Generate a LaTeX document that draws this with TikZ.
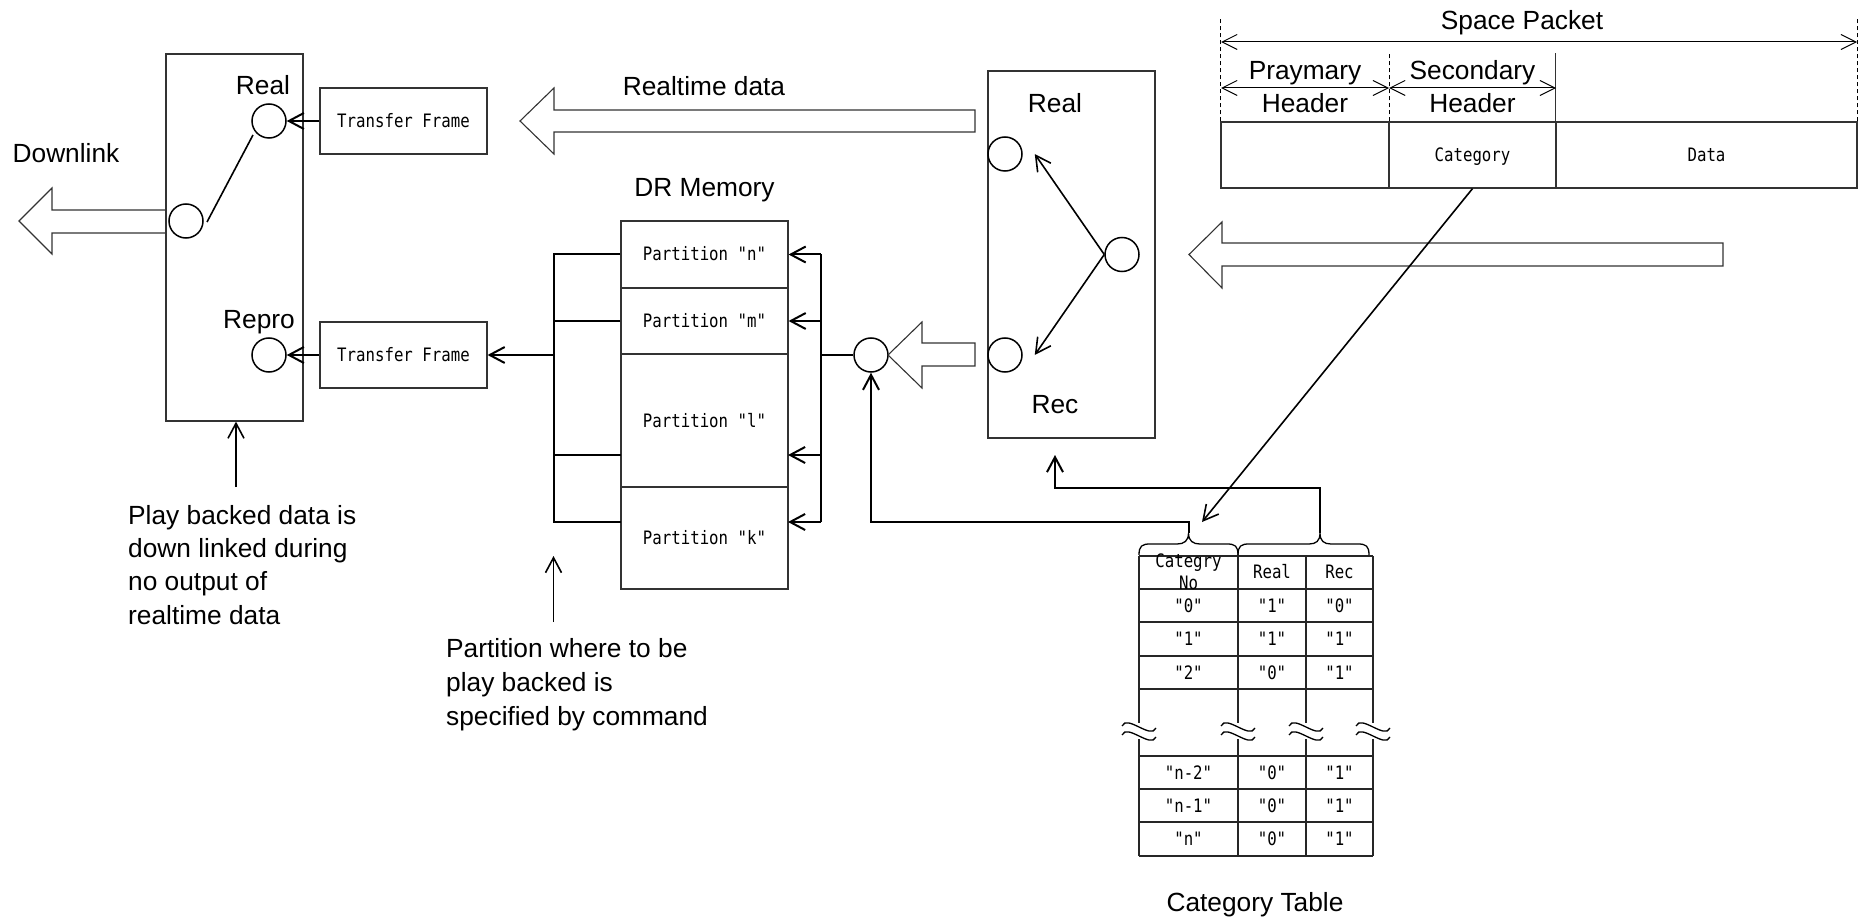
\documentclass[tikz,border=0pt]{standalone}
\usepackage{fontspec}
\setmainfont{Liberation Sans}
\newfontfamily\monofont[FakeStretch=0.85]{DejaVu Sans Mono}
\usetikzlibrary{arrows.meta,calc}
\tikzset{
  box/.style={draw=black!80, line width=1.2pt, inner sep=0pt},
  port/.style={circle, draw=black, line width=1.5pt, minimum size=34pt, inner sep=0pt},
  conn/.style={line width=2pt},
  arr/.style={line width=2pt, -{Straight Barb[length=15pt,width=16pt]}},
  sarr/.style={line width=1.6pt, -{Straight Barb[length=15pt,width=16pt]}},
  dim/.style={line width=1pt, {Straight Barb[length=15pt,width=15pt]}-{Straight Barb[length=15pt,width=15pt]}},
  dashline/.style={line width=1.2pt, dash pattern=on 4pt off 3pt},
  fat/.style={draw=black!80, line width=1.1pt},
  lbl/.style={font=\fontsize{26.3}{33.3}\selectfont, inner sep=0pt},
  mono/.style={font=\monofont\fontsize{18.5}{22}\selectfont, inner sep=0pt, text height=13pt, text depth=0pt},
  tline/.style={draw=black!85, line width=1.3pt},
  wave/.style={line width=1.3pt},
  brace/.style={line width=1.3pt},
}
\begin{document}
\begin{tikzpicture}[x=1pt,y=-1pt]
\useasboundingbox (0,0) rectangle (1864,920);
\fill[white] (0,0) rectangle (1864,920);

% ---------- left switch ----------
\node[box, minimum width=137pt, minimum height=367pt] (lb) at (234.5,237.5) {};
\node[port] (lreal) at (269,121) {};
\node[port] (lmid) at (186,221) {};
\node[port] (lrepro) at (269,355) {};
\draw[line width=1.6pt] ($(lmid)+(21,1)$) -- ($(lreal)+(-16,14)$);
\node[lbl, anchor=base] (lrealt) at (263,95) {Real};
\node[lbl, anchor=base] (lreprot) at (259,328) {Repro};
\node[lbl, anchor=base] (downt) at (66,163) {Downlink};
\draw[fat] (166,210) -- (52,210) -- (52,188) -- (19,221) -- (52,254) -- (52,233) -- (166,233);

\node[box, mono, minimum width=167pt, minimum height=66pt] (tf1) at (403.5,121) {Transfer Frame};
\node[box, mono, minimum width=167pt, minimum height=66pt] (tf2) at (403.5,355) {Transfer Frame};
\draw[arr] (tf1.west) -- (lreal.east);
\draw[arr] (tf2.west) -- (lrepro.east);

\coordinate (pb) at (236,487);
\draw[sarr] (pb) -- (pb |- lb.south);
\node[lbl, anchor=north west, align=left] (pbt) at (128,505)
  {Play backed data is\\down linked during\\no output of\\realtime data};

% ---------- realtime arrow ----------
\draw[fat] (975,110) -- (554,110) -- (554,88) -- (520,121) -- (554,154) -- (554,132) -- (975,132) -- cycle;
\node[lbl, anchor=base] (rtdt) at (704,96) {Realtime data};

% ---------- DR memory ----------
\node[lbl, anchor=base] (drt) at (704.5,197) {DR Memory};
\node[box, mono, minimum width=167pt, minimum height=67pt] (pn) at (704.5,254.5) {Partition "n"};
\node[box, mono, minimum width=167pt, minimum height=66pt] (pm) at (704.5,321) {Partition "m"};
\node[box, mono, minimum width=167pt, minimum height=133pt] (pl) at (704.5,420.5) {Partition "l"};
\node[box, mono, minimum width=167pt, minimum height=102pt] (pk) at (704.5,538) {Partition "k"};

\draw[conn] (pn.west) -- (553.5,254.5) -- (553.5,522) -- (621,522);
\draw[conn] (pm.west) -- (553.5,321);
\draw[conn] (553.5,455) -- (621,455);
\draw[arr] (553.5,355) -- (tf2.east);

\node[port] (mc) at (871,355) {};
\draw[conn] (mc.west) -- (821,355);
\draw[conn] (821,254.5) -- (821,522);
\draw[arr] (821,254.5) -- (pn.east);
\draw[arr] (821,321) -- (pm.east);
\draw[arr] (821,455) -- (788,455);
\draw[arr] (821,522) -- (788,522);
\draw[fat] (975,343) -- (922,343) -- (922,322) -- (888,355) -- (922,388) -- (922,366) -- (975,366) -- cycle;

\coordinate (pbc) at (553.5,622);
\draw[sarr] (pbc) -- (553.5,556);
\node[lbl, anchor=north west, align=left, font=\fontsize{26.3}{34}\selectfont] (pct) at (446,638)
  {Partition where to be\\play backed is\\specified by command};

% ---------- right switch ----------
\node[box, minimum width=167pt, minimum height=367pt] (rb) at (1071.5,254.5) {};
\node[port] (rreal) at (1005,154) {};
\node[port] (rmid) at (1122,254.5) {};
\node[port] (rrec) at (1005,355) {};
\draw[sarr] (rmid.west) -- ($(rreal.east)+(12,0)$);
\draw[sarr] (rmid.west) -- ($(rrec.east)+(12,0)$);
\node[lbl, anchor=base] (rrealt) at (1055,113) {Real};
\node[lbl, anchor=base] (rrect) at (1055,413) {Rec};

\draw[fat] (1723,243) -- (1222,243) -- (1222,222) -- (1189,254.5) -- (1222,288) -- (1222,266) -- (1723,266) -- cycle;

% ---------- space packet ----------
\node[box, minimum width=168pt, minimum height=66pt] (sp1) at (1305,155) {};
\node[box, mono, minimum width=167pt, minimum height=66pt] (sp2) at (1472.5,155) {Category};
\node[box, mono, minimum width=301pt, minimum height=66pt] (sp3) at (1706.5,155) {Data};
\draw[dashline] (sp1.north west) -- ++(0,-102);
\draw[dashline] (sp3.north east) -- ++(0,-102);
\draw[dashline] (sp1.north east) -- ++(0,-68);
\draw[box] (sp3.north west) -- ++(0,-68);
\coordinate (spl) at (1221,42);
\coordinate (spr) at (1857,42);
\draw[dim] (spl) -- (spr);
\coordinate (h1) at (1221,88);
\coordinate (h2) at (1389,88);
\coordinate (h3) at (1556,88);
\draw[dim] (h1) -- (h2);
\draw[dim] (h2) -- (h3);
\node[lbl, anchor=base] (spt) at (1522,30) {Space Packet};
\node[lbl, anchor=base] (ph1) at (1305,80) {Praymary};
\node[lbl, anchor=base] (ph2) at (1305,113) {Header};
\node[lbl, anchor=base] (sh1) at (1472.5,80) {Secondary};
\node[lbl, anchor=base] (sh2) at (1472.5,113) {Header};

% ---------- category table ----------
\foreach \yy in {556,589,622,656,689,756,789,822,856}
  \draw[tline] (1139,\yy) -- (1373,\yy);
\foreach \X in {1139,1238,1306,1373} {
  \draw[tline] (\X,556) -- (\X,723);
  \draw[tline] (\X,739) -- (\X,856);
  \draw[wave] ({\X-17},726) .. controls ({\X-12},714) and ({\X+12},740) .. ({\X+17},728);
  \draw[wave] ({\X-17},735) .. controls ({\X-12},723) and ({\X+12},749) .. ({\X+17},737);
}
\node[mono] (hcat) at (1188.5,561) {Categry};
\node[mono] (hno) at (1188.5,583) {No};
\node[mono] (hreal) at (1272,572) {Real};
\node[mono] (hrec) at (1339.5,572) {Rec};
\node[mono] (a1) at (1188.5,605.5) {"0"};
\node[mono] (a2) at (1272,605.5) {"1"};
\node[mono] (a3) at (1339.5,605.5) {"0"};
\node[mono] (b1t) at (1188.5,639) {"1"};
\node[mono] (b2t) at (1272,639) {"1"};
\node[mono] (b3t) at (1339.5,639) {"1"};
\node[mono] (c1) at (1188.5,672.5) {"2"};
\node[mono] (c2) at (1272,672.5) {"0"};
\node[mono] (c3) at (1339.5,672.5) {"1"};
\node[mono] (d1) at (1188.5,772.5) {"n-2"};
\node[mono] (d2) at (1272,772.5) {"0"};
\node[mono] (d3) at (1339.5,772.5) {"1"};
\node[mono] (e1) at (1188.5,805.5) {"n-1"};
\node[mono] (e2) at (1272,805.5) {"0"};
\node[mono] (e3) at (1339.5,805.5) {"1"};
\node[mono] (f1) at (1188.5,839) {"n"};
\node[mono] (f2) at (1272,839) {"0"};
\node[mono] (f3) at (1339.5,839) {"1"};
\node[lbl, anchor=base] (ctt) at (1255,911) {Category Table};

% braces
\coordinate (br1) at (1188.5,533);
\coordinate (br2) at (1320,533);
\draw[brace] (1139,555) .. controls (1139,546) and (1142,544) .. (1150,544) -- (1177,544)
  .. controls (1184,544) and (1188.5,541) .. (br1)
  .. controls (1188.5,541) and (1193,544) .. (1200,544) -- (1227,544)
  .. controls (1235,544) and (1238,546) .. (1238,555);
\draw[brace] (1238,555) .. controls (1238,546) and (1241,544) .. (1249,544) -- (1309,544)
  .. controls (1316,544) and (1320,541) .. (br2)
  .. controls (1320,541) and (1324,544) .. (1331,544) -- (1358,544)
  .. controls (1366,544) and (1369,546) .. (1369,555);

% table connectors
\draw[arr] (br1) -- (1188.5,522) -| (mc.south);
\coordinate (rbin) at (1055,455);
\draw[arr] (br2) -- (1320,488) -| (rbin);
\coordinate (cattip) at (1202,522);
\draw[sarr] (sp2.south) -- (cattip);
\end{tikzpicture}
\end{document}
